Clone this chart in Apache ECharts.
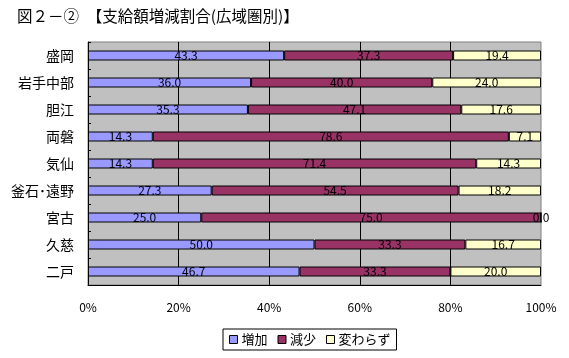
<!DOCTYPE html>
<html><head><meta charset="utf-8">
<script src="https://cdn.jsdelivr.net/npm/echarts@6/dist/echarts.min.js"></script>
<style>html,body{margin:0;padding:0;background:#fff}#c{width:569px;height:358px}</style>
</head><body><div id="c"></div>
<script>
const titleText = '図２－②　【支給額増減割合(広域圏別)】';
const categories = ['盛岡','岩手中部','胆江','両磐','気仙','釜石･遠野','宮古','久慈','二戸'];
const seriesNames = ['増加','減少','変わらず'];
const increase = [43.3,36.0,35.3,14.3,14.3,27.3,25.0,50.0,46.7];
const decrease = [37.3,40.0,47.1,78.6,71.4,54.5,75.0,33.3,33.3];
const unchanged = [19.4,24.0,17.6,7.1,14.3,18.2,0.0,16.7,20.0];
const colors = ['#9999FF','#993366','#FFFFCC'];
const FONT = '"Noto Sans CJK JP", sans-serif';

const chart = echarts.init(document.getElementById('c'), null, {renderer:'canvas'});
const mk = (name, data, color) => ({
  name, type:'bar', stack:'total', data, barWidth:10,
  itemStyle:{color, borderColor:'#000', borderWidth:1},
  label:{show:true, position:'inside', color:'#000', fontSize:12, fontFamily:FONT,
         formatter:p=>p.value.toFixed(1)},
  emphasis:{disabled:true}
});
chart.setOption({
  animation:false,
  title:{text:titleText, left:12, top:3, textStyle:{fontSize:15.5, fontWeight:'normal', color:'#000', fontFamily:FONT}},
  legend:{data:seriesNames, left:223, top:329, width:175, height:23,
    itemWidth:8, itemHeight:8, itemGap:10, padding:[4,6,4,6],
    borderColor:'#000', borderWidth:1, icon:'rect',
    itemStyle:{borderColor:'#000', borderWidth:1},
    textStyle:{fontSize:13, color:'#000', fontFamily:FONT, padding:[0,0,0,-1]}},
  grid:{left:88, right:28, top:42, bottom:73, show:true, backgroundColor:'#C0C0C0', borderColor:'#808080', borderWidth:1},
  xAxis:{type:'value', min:0, max:100, interval:20,
    axisLine:{show:true, lineStyle:{color:'#000'}},
    axisTick:{show:false},
    splitLine:{show:true, showMinLine:false, showMaxLine:false, lineStyle:{color:'#000', width:1}},
    axisLabel:{formatter:'{value}%', fontSize:12, color:'#000', fontFamily:FONT, margin:16}},
  yAxis:{type:'category', data:categories, inverse:true,
    axisLine:{show:true, lineStyle:{color:'#000'}},
    axisTick:{show:true, inside:true, length:3, lineStyle:{color:'#000'}},
    axisLabel:{fontSize:14, color:'#000', fontFamily:FONT, margin:14}},
  series:[mk(seriesNames[0], increase, colors[0]), mk(seriesNames[1], decrease, colors[1]), mk(seriesNames[2], unchanged, colors[2])]
});
</script></body></html>
